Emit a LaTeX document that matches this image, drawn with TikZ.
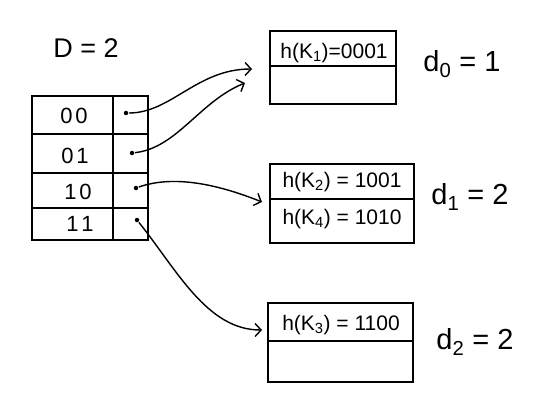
\documentclass[tikz,border=0pt]{standalone}
\usepackage{fontspec}
\setmainfont{Liberation Sans}
\usetikzlibrary{arrows.meta, positioning}

\begin{document}
\begin{tikzpicture}[x=1pt, y=-1pt, line width=1.6pt, >={Straight Barb[length=6pt,width=13pt]},
      dirbox/.style={draw, minimum width=116pt, minimum height=144pt, inner sep=0pt},
      bucket/.style={draw, inner sep=0pt},
      dot/.style={circle, fill, inner sep=0pt, minimum size=4.5pt},
      lbl/.style={font=\fontsize{22}{24}\selectfont},
      key/.style={font=\fontsize{21}{23}\selectfont},
      dep/.style={font=\fontsize{29}{31}\selectfont},
      arr/.style={->, line width=1.4pt}]

    \useasboundingbox (0,0) rectangle (555,420);

    % global depth
    \node[dep, font=\fontsize{27}{29}\selectfont] (D) at (86,48) {D = 2};

    % directory
    \node[dirbox] (dir) at (90,168) {};
    \draw (113,96) -- (113,240);
    \draw (32,134) -- (148,134);
    \draw (32,173) -- (148,173);
    \draw (32,208) -- (148,208);

    \node[lbl] (c00) at (74,116) {0\hspace{3pt}0};
    \node[lbl] (c01) at (75,156) {0\hspace{3pt}1};
    \node[lbl] (c10) at (78,192) {1\hspace{3pt}0};
    \node[lbl] (c11) at (80,224) {1\hspace{3pt}1};

    \node[dot] (p00) at (126,113) {};
    \node[dot] (p01) at (132,153) {};
    \node[dot] (p10) at (136,188) {};
    \node[dot] (p11) at (137,220) {};

    % buckets
    \node[bucket, minimum width=126pt, minimum height=73pt] (b0) at (333,67.5) {};
    \draw (b0.west |- 0,66) -- (b0.east |- 0,66);
    \node[key] (k1) at (334,53) {h(K\textsubscript{1})=0001};
    \node[dep] (d0) at (462,64) {d\textsubscript{0} = 1};

    \node[bucket, minimum width=144pt, minimum height=79pt] (b1) at (342,203.5) {};
    \draw (b1.west |- 0,199) -- (b1.east |- 0,199);
    \node[key] (k2) at (342,182) {h(K\textsubscript{2}) = 1001};
    \node[key] (k4) at (342,219) {h(K\textsubscript{4}) = 1010};
    \node[dep] (d1) at (470,197) {d\textsubscript{1} = 2};

    \node[bucket, minimum width=145pt, minimum height=79pt] (b2) at (340.5,342.5) {};
    \draw (b2.west |- 0,341) -- (b2.east |- 0,341);
    \node[key] (k3) at (341,325) {h(K\textsubscript{3}) = 1100};
    \node[dep] (d2) at (475,342) {d\textsubscript{2} = 2};

    % arrow ends
    \coordinate (t00) at (252,69);
    \coordinate (t01) at (245,83);
    \coordinate (t10) at (262,202);
    \coordinate (t11) at (262,330);

    % pointers
    \draw[arr] (p00) .. controls +(45,0) and +(-55,0) .. (t00);
    \draw[arr] (p01) .. controls +(45,-5) and +(-45,18) .. (t01);
    \draw[arr] (p10) .. controls +(40,-14) and +(-40,-16) .. (t10);
    \draw[arr] (p11) .. controls +(40,50) and +(-55,0) .. (t11);

\end{tikzpicture}
\end{document}
